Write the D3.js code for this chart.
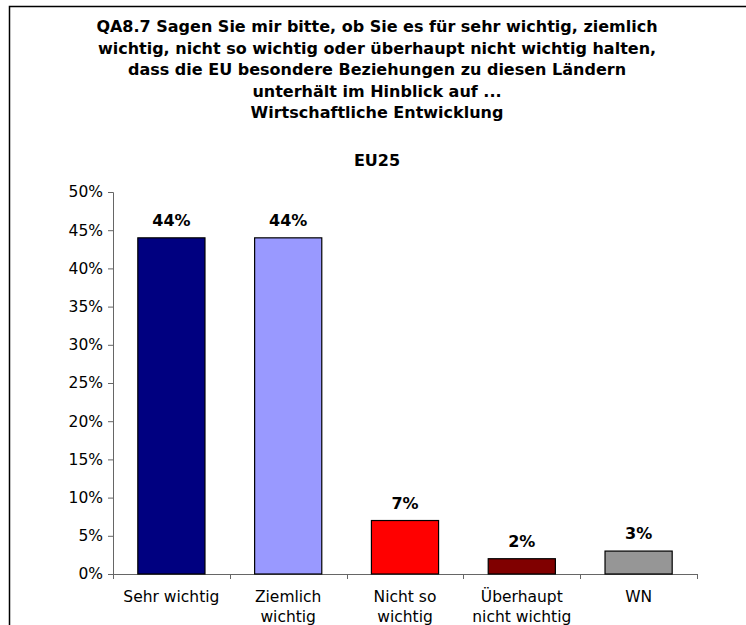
<!DOCTYPE html>
<html><head><meta charset="utf-8">
<script src="https://cdn.jsdelivr.net/npm/d3@7"></script>
<style>body{margin:0;background:#fff}svg{display:block}</style>
</head><body>
<script>
const categories = [["Sehr wichtig"], ["Ziemlich", "wichtig"], ["Nicht so", "wichtig"], ["Überhaupt", "nicht wichtig"], ["WN"]];
const values = [44, 44, 7, 2, 3];
const colors = ["#000080", "#9999FF", "#FF0000", "#800000", "#969696"];
const yTicks = [0, 5, 10, 15, 20, 25, 30, 35, 40, 45, 50];
const titleLines = ["QA8.7 Sagen Sie mir bitte, ob Sie es für sehr wichtig, ziemlich",
  "wichtig, nicht so wichtig oder überhaupt nicht wichtig halten,",
  "dass die EU besondere Beziehungen zu diesen Ländern",
  "unterhält im Hinblick auf ...",
  "Wirtschaftliche Entwicklung"];
const subtitle = "EU25";

const W = 746, H = 625;
const svg = d3.select("body").append("svg").attr("width", W).attr("height", H);

// frame
svg.append("path").attr("d", `M9.5,${H} V6.5 H${W}`).attr("fill", "none").attr("stroke", "#000").attr("stroke-width", 1.5);

const cx = 377;
const tf = "DejaVu Sans, Verdana, sans-serif";
svg.append("g").selectAll("text").data(titleLines).join("text")
  .attr("x", cx).attr("y", (d, i) => 32 + i * 21.5)
  .attr("text-anchor", "middle")
  .attr("font-family", tf)
  .attr("font-weight", "bold").attr("font-size", 16)
  .text(d => d);

svg.append("text").attr("x", cx).attr("y", 166).attr("text-anchor", "middle")
  .attr("font-family", tf)
  .attr("font-weight", "bold").attr("font-size", 16).text(subtitle);

const x = d3.scaleBand().domain(d3.range(categories.length)).range([113, 697]).paddingInner(0).paddingOuter(0);
const y = d3.scaleLinear().domain([0, 50]).range([574, 192]);

// y axis
const yAxis = d3.axisLeft(y).tickValues(yTicks).tickFormat(d => d + "%").tickSize(5).tickPadding(5);
const gy = svg.append("g").attr("transform", "translate(113,0)").call(yAxis);
gy.select(".domain").attr("stroke", "#666").attr("d", `M-5,${y(50) + 0.5}H0.5V${y(0) + 0.5}`);
gy.selectAll(".tick line").attr("stroke", "#666");
gy.selectAll(".tick text").attr("font-family", tf).attr("font-size", 15.5).attr("fill", "#000");

// x axis line and ticks at band boundaries
const gx = svg.append("g");
gx.append("line").attr("x1", 113).attr("x2", 697).attr("y1", y(0) + 0.5).attr("y2", y(0) + 0.5).attr("stroke", "#666");
const bounds = d3.range(categories.length + 1).map(i => i < categories.length ? x(i) : x(categories.length - 1) + x.bandwidth());
gx.selectAll("line.t").data(bounds).join("line").attr("class", "t")
  .attr("x1", d => Math.round(d) + 0.5).attr("x2", d => Math.round(d) + 0.5)
  .attr("y1", y(0)).attr("y2", y(0) + 5).attr("stroke", "#666");

// bars
const bw = x.bandwidth() * 0.575;
svg.append("g").selectAll("rect").data(values).join("rect")
  .attr("x", (d, i) => x(i) + (x.bandwidth() - bw) / 2)
  .attr("y", d => y(d))
  .attr("width", bw).attr("height", d => y(0) - y(d))
  .attr("fill", (d, i) => colors[i]).attr("stroke", "#000").attr("stroke-width", 1.2);

// value labels
svg.append("g").selectAll("text").data(values).join("text")
  .attr("x", (d, i) => x(i) + x.bandwidth() / 2)
  .attr("y", d => y(d) - 12)
  .attr("text-anchor", "middle")
  .attr("font-family", tf)
  .attr("font-weight", "bold").attr("font-size", 16)
  .text(d => d + "%");

// category labels
const cg = svg.append("g").selectAll("text").data(categories).join("text")
  .attr("text-anchor", "middle")
  .attr("font-family", tf).attr("font-size", 15.5);
cg.each(function(d, i) {
  d3.select(this).selectAll("tspan").data(d).join("tspan")
    .attr("x", x(i) + x.bandwidth() / 2)
    .attr("y", (t, j) => 602 + j * 20)
    .text(t => t);
});
</script>
</body></html>
